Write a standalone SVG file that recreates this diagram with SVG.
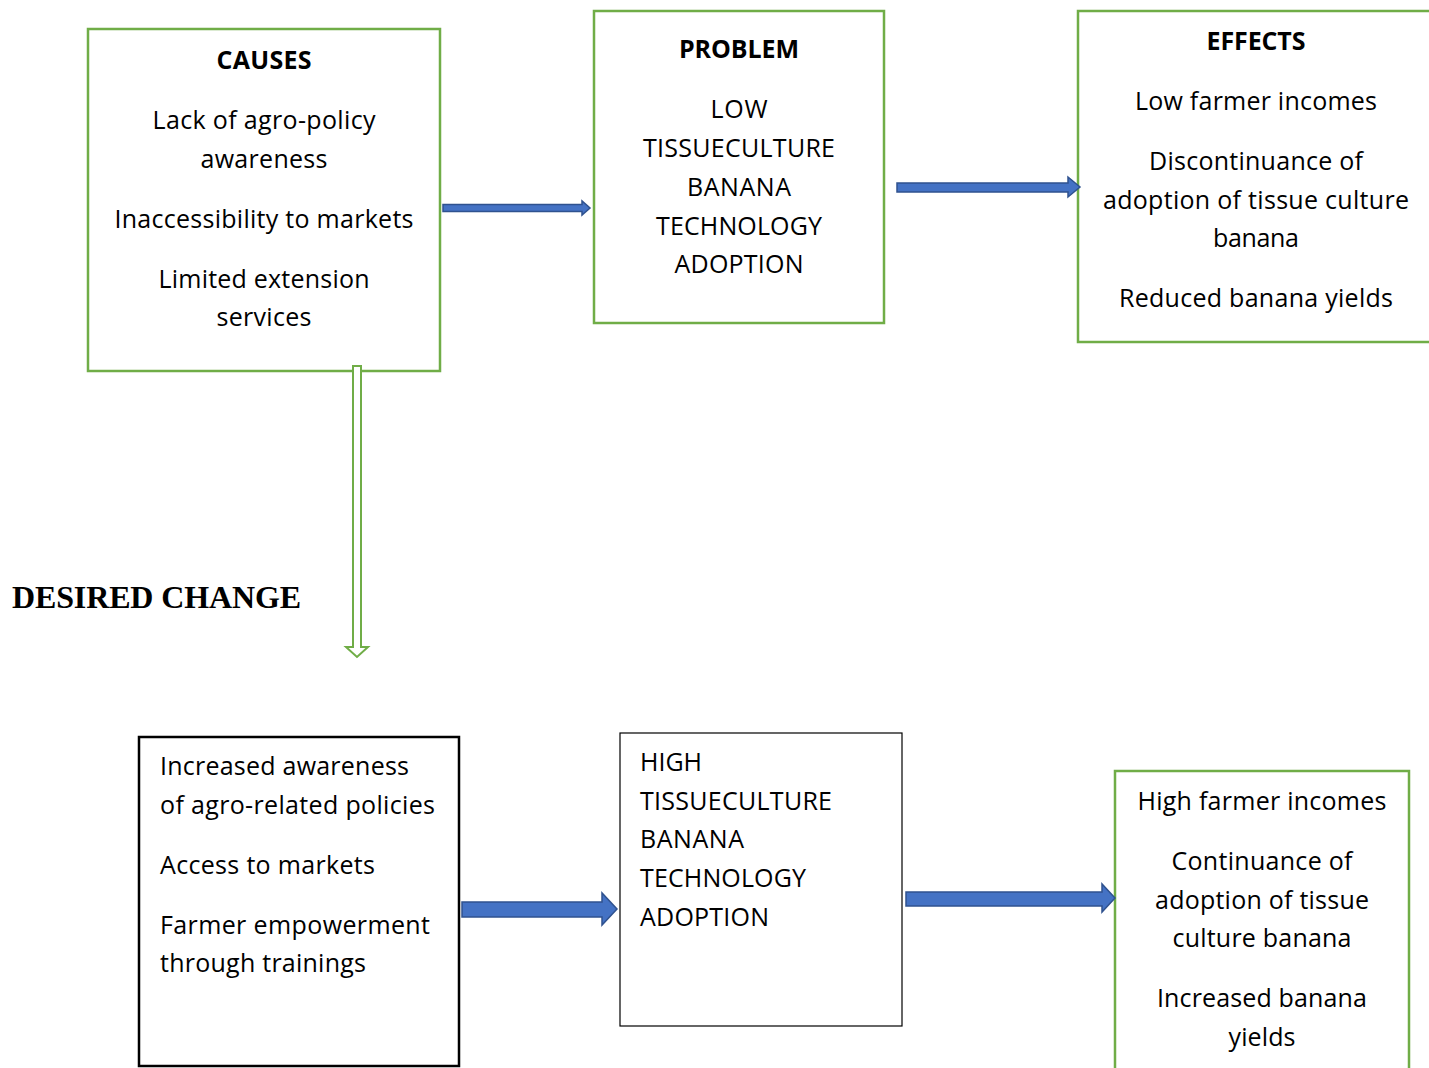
<svg xmlns="http://www.w3.org/2000/svg" width="1429" height="1068" viewBox="0 0 1429 1068">
<style>
.t{font-family:"Open Sans",Lato,"Liberation Sans",sans-serif;font-size:25px;fill:#000}
.c{text-anchor:middle}
.b{font-weight:bold}
.g{fill:#fff;stroke:#70AD47;stroke-width:2.5}
.k{fill:#fff;stroke:#000;stroke-width:2.5}
.k1{fill:#fff;stroke:#000;stroke-width:1.2}
.ar{fill:#4472C4;stroke:#2F528F;stroke-width:1.5}
.h{font-family:"Liberation Serif","Times New Roman",serif;font-weight:bold;font-size:32px;fill:#000}
</style>
<rect width="1429" height="1068" fill="#fff"/>
<g id="causes">
<rect class="g" x="88" y="29" width="352" height="342"/>
<text class="t c b" x="264" y="69" textLength="95">CAUSES</text>
<text class="t c" x="264" y="129" textLength="223">Lack of agro-policy</text>
<text class="t c" x="264" y="168" textLength="127">awareness</text>
<text class="t c" x="264" y="228" textLength="299">Inaccessibility to markets</text>
<text class="t c" x="264" y="288" textLength="211">Limited extension</text>
<text class="t c" x="264" y="326" textLength="95">services</text>
</g>
<g id="problem">
<rect class="g" x="594" y="11" width="290" height="312"/>
<text class="t c b" x="739" y="58" textLength="120">PROBLEM</text>
<text class="t c" x="739" y="118" textLength="57">LOW</text>
<text class="t c" x="739" y="157" textLength="192">TISSUECULTURE</text>
<text class="t c" x="739" y="196" textLength="104">BANANA</text>
<text class="t c" x="739" y="235" textLength="166">TECHNOLOGY</text>
<text class="t c" x="739" y="273" textLength="129">ADOPTION</text>
</g>
<g id="effects">
<rect class="g" x="1078" y="11" width="360" height="331"/>
<text class="t c b" x="1256" y="50" textLength="99">EFFECTS</text>
<text class="t c" x="1256" y="110" textLength="242">Low farmer incomes</text>
<text class="t c" x="1256" y="170" textLength="214">Discontinuance of</text>
<text class="t c" x="1256" y="209" textLength="306">adoption of tissue culture</text>
<text class="t c" x="1256" y="247" textLength="86">banana</text>
<text class="t c" x="1256" y="307" textLength="274">Reduced banana yields</text>
</g>
<g id="desired-change">
<text class="h" x="12" y="608" textLength="289">DESIRED CHANGE</text>
</g>
<g id="solutions">
<rect class="k" x="139" y="737" width="320" height="329"/>
<text class="t" x="160" y="775" textLength="249">Increased awareness</text>
<text class="t" x="160" y="814" textLength="275">of agro-related policies</text>
<text class="t" x="160" y="874" textLength="215">Access to markets</text>
<text class="t" x="160" y="934" textLength="270">Farmer empowerment</text>
<text class="t" x="160" y="972" textLength="206">through trainings</text>
</g>
<g id="goal">
<rect class="k1" x="620" y="733" width="282" height="293"/>
<text class="t" x="640" y="771" textLength="62">HIGH</text>
<text class="t" x="640" y="810" textLength="192">TISSUECULTURE</text>
<text class="t" x="640" y="848" textLength="104">BANANA</text>
<text class="t" x="640" y="887" textLength="166">TECHNOLOGY</text>
<text class="t" x="640" y="926" textLength="129">ADOPTION</text>
</g>
<g id="outcomes">
<rect class="g" x="1115" y="771" width="294" height="320"/>
<text class="t c" x="1262" y="810" textLength="249">High farmer incomes</text>
<text class="t c" x="1262" y="870" textLength="181">Continuance of</text>
<text class="t c" x="1262" y="909" textLength="214">adoption of tissue</text>
<text class="t c" x="1262" y="947" textLength="179">culture banana</text>
<text class="t c" x="1262" y="1007" textLength="210">Increased banana</text>
<text class="t c" x="1262" y="1046" textLength="67">yields</text>
</g>
<g id="connectors">
<polygon class="ar" points="443,204.5 582,204.5 582,201 590,208 582,215 582,211.5 443,211.5"/>
<polygon class="ar" points="897,183 1068,183 1068,177 1080,187 1068,197 1068,192 897,192"/>
<polygon fill="#fff" stroke="#70AD47" stroke-width="2" points="353,366 361,366 361,647 368,647 357,657 346,647 353,647"/>
<polygon class="ar" points="462,902 602,902 602,893 617,909 602,925 602,917 462,917"/>
<polygon class="ar" points="906,892 1102,892 1102,884 1115,898 1102,912 1102,906 906,906"/>
</g>
</svg>
